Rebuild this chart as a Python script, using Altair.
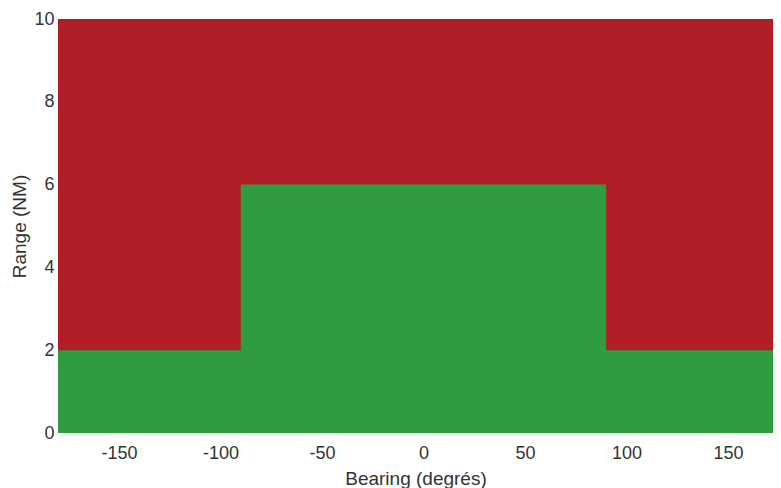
import altair as alt
import pandas as pd

# Zones (bearing range in degrees, range limits in NM, status); later rows drawn on top
x_start = [-180, -180, -90]
x_end = [180, 180, 90]
y_start = [0, 0, 0]
y_end = [10, 2, 6]
status = ["ko", "ok", "ok"]

df = pd.DataFrame({"x": x_start, "x2": x_end, "y": y_start, "y2": y_end, "s": status,
                   "order": list(range(len(status)))})

x_ticks = [-150, -100, -50, 0, 50, 100, 150]
y_ticks = [0, 2, 4, 6, 8, 10]

FONT = "Liberation Sans"

chart = alt.Chart(df).mark_rect(clip=True, stroke=None).encode(
    x=alt.X("x:Q", scale=alt.Scale(domain=[-180, 172.2], nice=False, zero=False),
            axis=alt.Axis(values=x_ticks, title="Bearing (degrés)", grid=False, domain=False,
                          ticks=False, labelPadding=11, titlePadding=7, labelFontSize=18,
                          titleFontSize=19, titleFontWeight="normal", labelColor="#333333",
                          titleColor="#333333", labelFont=FONT, titleFont=FONT,
                          labelExpr="toString(datum.value)")),
    x2="x2:Q",
    y=alt.Y("y:Q", scale=alt.Scale(domain=[0, 10], nice=False),
            axis=alt.Axis(values=y_ticks, title="Range (NM)", grid=False, domain=False,
                          ticks=False, labelPadding=4, titlePadding=4, labelFontSize=18,
                          titleFontSize=19, titleFontWeight="normal", labelColor="#333333",
                          titleColor="#333333", labelFont=FONT, titleFont=FONT)),
    y2="y2:Q",
    order="order:Q",
    color=alt.Color("s:N", scale=alt.Scale(domain=["ok", "ko"], range=["#2f9c40", "#b01f27"]),
                    legend=None),
).properties(
    width=715, height=414,
    autosize=alt.AutoSizeParams(type="none"),
    padding={"left": 50, "top": 11, "right": 0, "bottom": 55},
).configure_view(stroke=None)

chart.save("out.html", embed_options={"renderer": "svg", "actions": False})
